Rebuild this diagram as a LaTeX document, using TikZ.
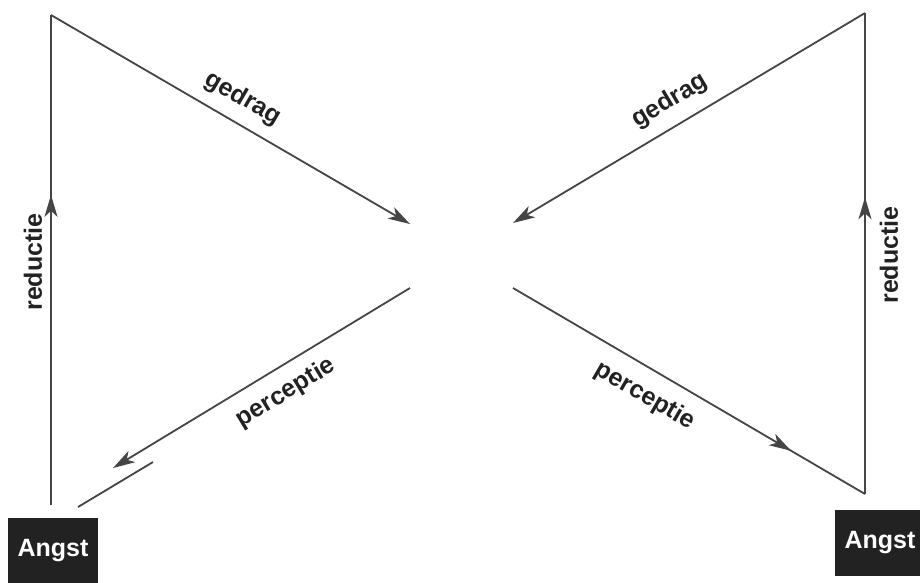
\documentclass[tikz,border=0pt]{standalone}
\usepackage{fontspec}
\setmainfont{Liberation Sans}
\usepackage{xcolor}
\usepackage{tikz}
\usetikzlibrary{arrows.meta, positioning, decorations.markings}

\definecolor{inkgray}{HTML}{454545}
\definecolor{boxdark}{HTML}{222222}

\begin{document}
\begin{tikzpicture}[
  x=1pt, y=-1pt,
  conn/.style={inkgray, line width=1.8pt},
  tip/.style={-{Stealth[length=22pt, width=13pt, inset=6pt]}},
  midtip/.style={postaction={decorate}, decoration={markings,
    mark=at position #1 with {\arrow{Stealth[length=22pt, width=13pt, inset=6pt]}}}},
  lbl/.style={text=boxdark, font=\bfseries\fontsize{25}{30}\selectfont, inner sep=0pt},
  angst/.style={fill=boxdark, text=white, minimum width=90pt, minimum height=66pt,
    font=\bfseries\fontsize{25}{30}\selectfont, inner sep=0pt}
]
  \useasboundingbox[fill=white] (0,0) rectangle (920,582);

  % Corners and open ends of the two loops
  \coordinate (topL) at (51,15);
  \coordinate (gedragEndL) at (410,224);
  \coordinate (perceptieStartL) at (410,288);
  \coordinate (perceptieEndL) at (113,468);
  \coordinate (baseL) at (51,505);
  \coordinate (strokeA) at (78,507);
  \coordinate (strokeB) at (153,462);
  \coordinate (topR) at (865,13);
  \coordinate (gedragEndR) at (513,223);
  \coordinate (perceptieStartR) at (513,288);
  \coordinate (baseR) at (865,494);

  % Angst boxes
  \node[angst] (angstL) at (53,551) {Angst};
  \node[angst] (angstR) at (880,543) {Angst};

  % Left loop
  \draw[conn, midtip=0.633] (baseL) -- (topL);
  \draw[conn, tip] (topL) -- (gedragEndL);
  \draw[conn, tip] (perceptieStartL) -- (perceptieEndL);
  \draw[conn] (strokeA) -- (strokeB);

  % Right loop
  \draw[conn, midtip=0.617] (baseR) -- (topR);
  \draw[conn, tip] (topR) -- (gedragEndR);
  \draw[conn, midtip=0.79] (perceptieStartR) -- (baseR);

  % Labels
  \node[lbl, rotate=-30.2] (gedragL) at (243,99) {gedrag};
  \node[lbl, rotate=30.8] (gedragR) at (670,101) {gedrag};
  \node[lbl, rotate=31.2] (perceptieL) at (286,393) {perceptie};
  \node[lbl, rotate=-30.3] (perceptieR) at (645,396) {perceptie};
  \node[lbl, rotate=90] (reductieL) at (33,262) {reductie};
  \node[lbl, rotate=90] (reductieR) at (889,255) {reductie};
\end{tikzpicture}
\end{document}
